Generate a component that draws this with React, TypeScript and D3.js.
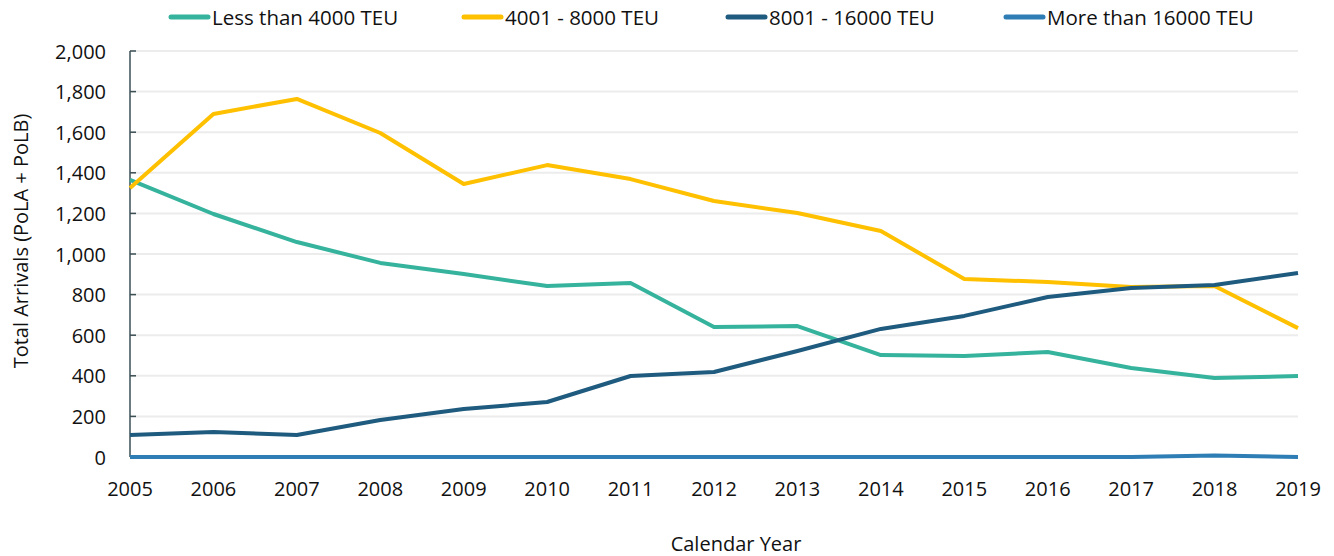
import React from 'react';
import * as d3 from 'd3';

const years = [2005, 2006, 2007, 2008, 2009, 2010, 2011, 2012, 2013, 2014, 2015, 2016, 2017, 2018, 2019];
const lessThan4000 = [1365, 1197, 1059, 956, 901, 842, 857, 640, 645, 502, 497, 517, 438, 389, 399];
const from4001to8000 = [1325, 1690, 1764, 1596, 1345, 1438, 1369, 1261, 1202, 1113, 877, 862, 837, 842, 635];
const from8001to16000 = [108, 123, 108, 182, 236, 271, 399, 419, 522, 631, 695, 788, 833, 847, 906];
const moreThan16000 = [0, 0, 0, 0, 0, 0, 0, 0, 0, 0, 0, 0, 0, 8, 0];
const yTicks = [0, 200, 400, 600, 800, 1000, 1200, 1400, 1600, 1800, 2000];

const series = [
  { name: 'Less than 4000 TEU', values: lessThan4000, color: '#36b39d' },
  { name: '4001 - 8000 TEU', values: from4001to8000, color: '#ffc000' },
  { name: '8001 - 16000 TEU', values: from8001to16000, color: '#1f5b7e' },
  { name: 'More than 16000 TEU', values: moreThan16000, color: '#2e7db5' },
];

// legend x positions (swatch start)
const legendX = [169, 462, 726, 1004];

const width = 1334, height = 556;
const plot = { left: 130, right: 1298, top: 51, bottom: 457 };
const font = '"Open Sans", sans-serif';

const App = () => {
  const xScale = d3.scaleLinear()
    .domain([2005, 2019])
    .range([plot.left, plot.right]);
  const yScale = d3.scaleLinear()
    .domain([0, 2000])
    .range([plot.bottom, plot.top]);
  const line = d3.line<number>()
    .x((d, i) => xScale(years[i]))
    .y(d => yScale(d));
  const fmt = d3.format(',');

  return <svg width={width} height={height} style={{ position: 'absolute', left: 0, top: 0 }} fontFamily={font}>
    <rect width={width} height={height} fill='#fff' />
    {/* gridlines */}
    <g>
      {yTicks.filter(t => t > 0).map(t => <line key={t}
        x1={plot.left} x2={plot.right}
        y1={yScale(t)} y2={yScale(t)}
        stroke='#ececec' strokeWidth={2} />)}
    </g>
    {/* y axis */}
    <g>
      <line x1={plot.left} x2={plot.left} y1={yScale(2000)} y2={yScale(0)} stroke='#3b4f55' strokeWidth={1.5} />
      {yTicks.map(t => <g key={t}>
        <line x1={plot.left} x2={plot.left + 6} y1={yScale(t)} y2={yScale(t)} stroke='#3b4f55' strokeWidth={1.5} />
        <text x={106} y={yScale(t)} textAnchor='end' dominantBaseline='central' fontSize={20} fill='#111'>{fmt(t)}</text>
      </g>)}
    </g>
    {/* x labels */}
    <g>
      {years.map(y => <text key={y} x={xScale(y)} y={488} textAnchor='middle' dominantBaseline='central' fontSize={20} fill='#111'>{y}</text>)}
    </g>
    {/* lines */}
    <g>
      {series.map(s => <path key={s.name} d={line(s.values) || ''} fill='none' stroke={s.color} strokeWidth={4} strokeLinejoin='round' />)}
    </g>
    {/* axis titles */}
    <text x={736} y={543} textAnchor='middle' dominantBaseline='central' fontSize={20} fill='#111'>Calendar Year</text>
    <text transform={`translate(20, 241) rotate(-90)`} textAnchor='middle' dominantBaseline='central' fontSize={20} fill='#111'>Total Arrivals (PoLA + PoLB)</text>
    {/* legend */}
    <g>
      {series.map((s, i) => <g key={s.name}>
        <line x1={legendX[i] + 2} x2={legendX[i] + 39} y1={17} y2={17} stroke={s.color} strokeWidth={5} strokeLinecap='round' />
        <text x={legendX[i] + 43} y={17} dominantBaseline='central' fontSize={20.5} fill='#111'>{s.name}</text>
      </g>)}
    </g>
  </svg>;
};

export default App;
